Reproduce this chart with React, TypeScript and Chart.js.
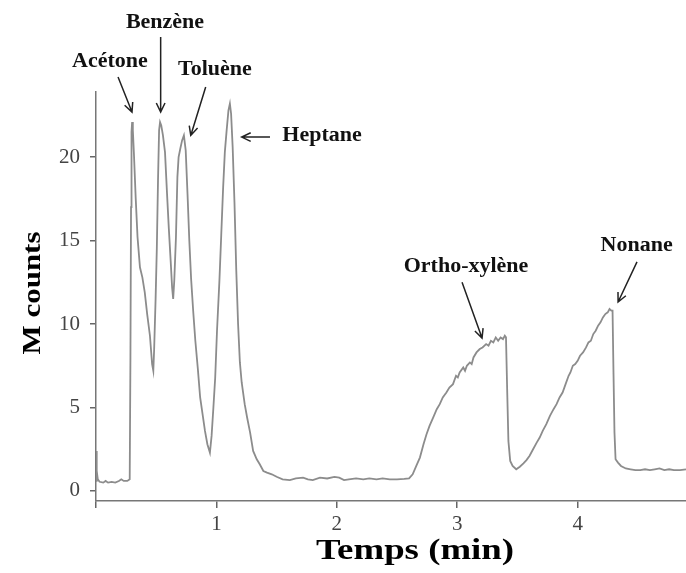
import React, { useEffect, useRef } from "react";
import { Chart, registerables } from "chart.js";

Chart.register(...registerables);

// Chromatogram trace
const timeMin = [
  0.0, 0.004, 0.008, 0.015, 0.03, 0.06, 0.08, 0.1, 0.13, 0.16, 0.19, 0.21, 0.23, 0.26, 0.28,
  0.286, 0.291, 0.295, 0.3, 0.306, 0.315, 0.33, 0.345, 0.365, 0.385, 0.405, 0.425, 0.448, 0.466, 0.476,
  0.483, 0.495, 0.505, 0.515, 0.524, 0.532, 0.542, 0.556, 0.573, 0.59, 0.605, 0.62, 0.632, 0.641,
  0.65, 0.664, 0.676, 0.686, 0.7, 0.715, 0.73, 0.745, 0.76, 0.775, 0.79, 0.807, 0.825, 0.846, 0.865,
  0.885, 0.905, 0.925, 0.946, 0.96, 0.975, 0.99, 1.005, 1.025, 1.04, 1.056, 1.07, 1.085, 1.1, 1.112,
  1.122, 1.135, 1.15, 1.165, 1.18, 1.195, 1.21, 1.235, 1.255, 1.28, 1.305, 1.335, 1.36, 1.39, 1.42,
  1.46, 1.5, 1.55, 1.61, 1.66, 1.72, 1.76, 1.8, 1.86, 1.92, 1.98, 2.02, 2.06, 2.1, 2.16, 2.22, 2.27,
  2.33, 2.38, 2.44, 2.5, 2.56, 2.6, 2.63, 2.66, 2.69, 2.72, 2.745, 2.77, 2.8, 2.83, 2.855, 2.88, 2.91,
  2.935, 2.965, 2.99, 3.005, 3.02, 3.05, 3.065, 3.08, 3.105, 3.12, 3.135, 3.16, 3.187, 3.21, 3.24,
  3.26, 3.28, 3.3, 3.32, 3.34, 3.36, 3.38, 3.395, 3.405, 3.415, 3.425, 3.44, 3.46, 3.49, 3.52, 3.55,
  3.575, 3.6, 3.63, 3.66, 3.685, 3.71, 3.74, 3.77, 3.8, 3.825, 3.85, 3.875, 3.9, 3.925, 3.94, 3.96,
  3.98, 4.0, 4.02, 4.045, 4.07, 4.09, 4.11, 4.13, 4.15, 4.17, 4.19, 4.21, 4.23, 4.25, 4.265, 4.28,
  4.29, 4.298, 4.306, 4.315, 4.335, 4.36, 4.4, 4.44, 4.48, 4.52, 4.56, 4.6, 4.64, 4.68, 4.72, 4.76,
  4.8, 4.85, 4.9,
];

const mCounts = [
  0.6, 2.4, 1.2, 0.7, 0.55, 0.5, 0.6, 0.5, 0.55, 0.5, 0.6, 0.7, 0.6, 0.6, 0.7,
  8, 17, 21.5, 22.1, 21.6, 20.2, 17.5, 15.2, 13.4, 12.8, 11.9, 10.6, 9.3, 7.6, 7.2,
  8.5, 11.5, 14.5, 18.6, 21.6, 22.1, 21.9, 21.3, 20.3, 17.8, 15.7, 13.8, 12.2, 11.5,
  12.6, 15.2, 18.8, 20.0, 20.5, 21.0, 21.3, 20.4, 17.8, 15.0, 12.7, 10.8, 9.0, 7.3, 5.6,
  4.6, 3.6, 2.8, 2.3, 3.3, 5.0, 6.8, 9.6, 12.6, 15.3, 18.2, 20.3, 21.6, 22.8, 23.2,
  22.6, 20.6, 17.3, 13.2, 10.0, 7.7, 6.5, 5.2, 4.4, 3.5, 2.4, 1.9, 1.6, 1.2, 1.1,
  1.0, 0.85, 0.7, 0.65, 0.75, 0.8, 0.7, 0.65, 0.8, 0.75, 0.85, 0.8, 0.65, 0.7, 0.75, 0.7, 0.75,
  0.7, 0.75, 0.7, 0.7, 0.72, 0.75, 1.0, 1.5, 2.0, 2.8, 3.4, 3.9, 4.4, 4.9, 5.2, 5.6, 5.9,
  6.2, 6.4, 6.9, 6.8, 7.1, 7.4, 7.2, 7.5, 7.7, 7.6, 8.0, 8.3, 8.5, 8.6, 8.8,
  8.7, 9.0, 8.9, 9.2, 9.0, 9.2, 9.1, 9.3, 9.2, 6.0, 3.0, 1.8, 1.5, 1.3, 1.45, 1.65,
  1.85, 2.1, 2.5, 2.9, 3.2, 3.6, 4.0, 4.5, 4.9, 5.2, 5.6, 5.9, 6.4, 6.9, 7.1, 7.5,
  7.6, 7.8, 8.1, 8.3, 8.6, 8.9, 9.0, 9.4, 9.6, 9.9, 10.1, 10.4, 10.6, 10.7, 10.9, 10.8,
  10.8, 7.0, 3.5, 1.9, 1.7, 1.5, 1.35, 1.3, 1.25, 1.25, 1.3, 1.25, 1.3, 1.35, 1.25, 1.3,
  1.25, 1.25, 1.3,
];

// Peak labels: text, label position, arrow from -> to (data units)
const peakNames = ["Acétone", "Benzène", "Toluène", "Heptane", "Ortho-xylène", "Nonane"];
const labelTime = [0.116, 0.573, 0.988, 1.877, 3.073, 4.49];
const labelCount = [25.7, 28.05, 25.2, 21.3, 13.4, 14.7];
const arrowFromTime = [0.183, 0.537, 0.911, 1.445, 3.04, 4.493];
const arrowFromCount = [24.8, 27.2, 24.2, 21.2, 12.5, 13.72];
const arrowToTime = [0.299, 0.537, 0.787, 1.21, 3.206, 4.336];
const arrowToCount = [22.7, 22.7, 21.3, 21.2, 9.16, 11.32];

const xTitle = "Temps (min)";
const yTitle = "M counts";

const SERIF = "'Liberation Serif', 'Times New Roman', serif";

function stretchedText(ctx: any, text: string, x: number, y: number, sx: number, rot = 0) {
  ctx.save();
  ctx.translate(x, y);
  if (rot) ctx.rotate(rot);
  ctx.scale(sx, 1);
  ctx.fillText(text, 0, 0);
  ctx.restore();
}

const annotationPlugin = {
  id: "peakLabels",
  afterDatasetsDraw(chart: any) {
    const { ctx, scales } = chart;
    const xs = scales.x;
    const ys = scales.y;
    ctx.save();
    ctx.font = `bold 20px ${SERIF}`;
    ctx.fillStyle = "#111";
    ctx.textAlign = "center";
    ctx.textBaseline = "middle";
    for (let i = 0; i < peakNames.length; i++) {
      const lx = xs.getPixelForValue(labelTime[i]);
      const ly = ys.getPixelForValue(labelCount[i]);
      stretchedText(ctx, peakNames[i], lx, ly, 1.1);
      const x1 = xs.getPixelForValue(arrowFromTime[i]);
      const y1 = ys.getPixelForValue(arrowFromCount[i]);
      const x2 = xs.getPixelForValue(arrowToTime[i]);
      const y2 = ys.getPixelForValue(arrowToCount[i]);
      ctx.strokeStyle = "#222";
      ctx.lineWidth = 1.5;
      ctx.beginPath();
      ctx.moveTo(x1, y1);
      ctx.lineTo(x2, y2);
      const ang = Math.atan2(y2 - y1, x2 - x1);
      const h = 10;
      const spread = 0.45;
      ctx.moveTo(x2 - h * Math.cos(ang - spread), y2 - h * Math.sin(ang - spread));
      ctx.lineTo(x2, y2);
      ctx.lineTo(x2 - h * Math.cos(ang + spread), y2 - h * Math.sin(ang + spread));
      ctx.stroke();
    }
    // axis titles
    ctx.fillStyle = "#000";
    ctx.font = `bold 29px ${SERIF}`;
    stretchedText(ctx, xTitle, 415, 552, 1.27);
    ctx.font = `bold 26px ${SERIF}`;
    stretchedText(ctx, yTitle, 33, 293, 1.19, -Math.PI / 2);
    ctx.restore();
  },
};

export default function App() {
  const ref = useRef<HTMLCanvasElement>(null);
  useEffect(() => {
    document.body.style.margin = "0";
    const points = timeMin.map((t, i) => ({ x: t, y: mCounts[i] }));
    const chart = new Chart(ref.current as HTMLCanvasElement, {
      type: "line",
      data: {
        datasets: [
          {
            data: points,
            borderColor: "#8c8c8c",
            borderWidth: 1.8,
            pointRadius: 0,
            tension: 0,
            fill: false,
          },
        ],
      },
      options: {
        animation: false,
        responsive: false,
        parsing: false as any,
        layout: { padding: { top: 92, right: 0, left: 0, bottom: 0 } },
        plugins: { legend: { display: false }, tooltip: { enabled: false } },
        scales: {
          x: {
            type: "linear",
            min: 0,
            max: 4.9,
            ticks: {
              stepSize: 1,
              includeBounds: false,
              autoSkip: false,
              maxRotation: 0,
              callback: (v: any) => (v === 0 ? "" : String(v)),
              font: { family: SERIF, size: 21 },
              color: "#444",
              padding: 4,
            },
            grid: { drawOnChartArea: false, drawTicks: true, tickLength: 7, color: "#666", lineWidth: 1.5 },
            border: { display: true, color: "#777", width: 1.5 },
            afterFit: (s: any) => {
              s.height = 72;
            },
          },
          y: {
            min: -0.6,
            max: 23.9,
            ticks: {
              stepSize: 5,
              includeBounds: false,
              font: { family: SERIF, size: 21 },
              color: "#444",
              padding: 10,
            },
            grid: { drawOnChartArea: false, drawTicks: true, tickLength: 6, color: "#666", lineWidth: 1.5 },
            border: { display: true, color: "#777", width: 1.5 },
            afterFit: (s: any) => {
              s.width = 96;
            },
          },
        },
      },
      plugins: [annotationPlugin],
    });
    return () => chart.destroy();
  }, []);
  return (
    <div style={{ position: "absolute", left: 0, top: 0, width: 686, height: 573, background: "#fff" }}>
      <canvas ref={ref} width={686} height={573} style={{ display: "block" }} />
    </div>
  );
}
